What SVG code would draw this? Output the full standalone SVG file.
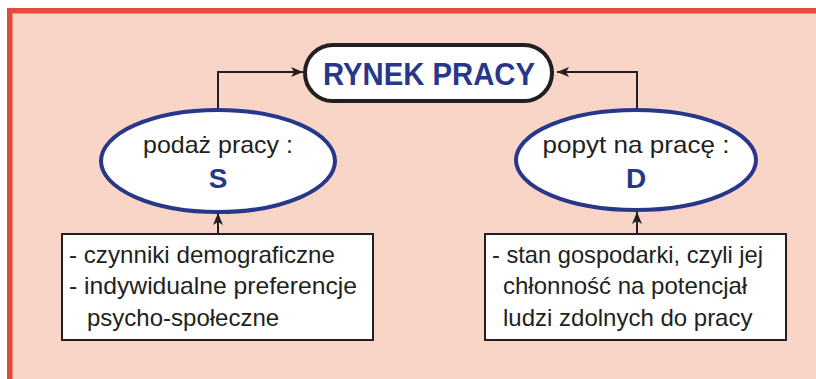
<svg xmlns="http://www.w3.org/2000/svg" width="816" height="379" viewBox="0 0 816 379">
<style>
.t{font-family:"Liberation Sans",Arial,sans-serif;fill:#231F20;font-size:24px}
.b{font-family:"Liberation Sans",Arial,sans-serif;font-weight:bold;fill:#27388A}
.ell{fill:#fff;stroke:#27388A;stroke-width:4}
.box{fill:#fff;stroke:#231F20;stroke-width:2}
.ln{fill:none;stroke:#231F20;stroke-width:2}
</style>
<defs>
<marker id="ah" viewBox="0 0 12 10" refX="12" refY="5" markerWidth="12" markerHeight="10" markerUnits="userSpaceOnUse" orient="auto">
<path d="M0,0 L12,5 L0,10 L3,5 Z" fill="#231F20"/>
</marker>
</defs>
<rect x="0" y="0" width="816" height="379" fill="#fff"/>
<rect x="7" y="8" width="809" height="371" fill="#E24A3C"/>
<rect x="12.5" y="13.5" width="803.5" height="365.5" fill="#F9D5C8"/>
<g id="connectors">
<path class="ln" d="M218,109 V72 H303" marker-end="url(#ah)"/>
<path class="ln" d="M637,108 V72 H557" marker-end="url(#ah)"/>
<path class="ln" d="M218,233 V213" marker-end="url(#ah)"/>
<path class="ln" d="M637,233 V212" marker-end="url(#ah)"/>
</g>
<g id="rynek">
<rect x="305" y="45" width="247" height="56" rx="28" fill="#fff" stroke="#231F20" stroke-width="4"/>
<text class="b" x="429" y="85" font-size="31" text-anchor="middle" textLength="212" lengthAdjust="spacingAndGlyphs">RYNEK PRACY</text>
</g>
<g id="podaz">
<ellipse class="ell" cx="218" cy="161" rx="117" ry="51"/>
<text class="t" x="218" y="153" font-size="25" text-anchor="middle" textLength="150" lengthAdjust="spacingAndGlyphs">podaż pracy :</text>
<text class="b" x="218" y="188" font-size="28" text-anchor="middle">S</text>
</g>
<g id="popyt">
<ellipse class="ell" cx="636" cy="160" rx="120" ry="50"/>
<text class="t" x="636" y="153" font-size="25" text-anchor="middle" textLength="187" lengthAdjust="spacingAndGlyphs">popyt na pracę :</text>
<text class="b" x="636" y="188" font-size="28" text-anchor="middle">D</text>
</g>
<g id="czynniki">
<rect class="box" x="62" y="234" width="311" height="106"/>
<text class="t" x="69" y="263" textLength="266" lengthAdjust="spacingAndGlyphs">- czynniki demograficzne</text>
<text class="t" x="69" y="294" textLength="288" lengthAdjust="spacingAndGlyphs">- indywidualne preferencje</text>
<text class="t" x="87" y="326">psycho-społeczne</text>
</g>
<g id="stan">
<rect class="box" x="485" y="234" width="301" height="106"/>
<text class="t" x="492" y="263" textLength="271" lengthAdjust="spacingAndGlyphs">- stan gospodarki, czyli jej</text>
<text class="t" x="503" y="294">chłonność na potencjał</text>
<text class="t" x="503" y="326">ludzi zdolnych do pracy</text>
</g>
</svg>
